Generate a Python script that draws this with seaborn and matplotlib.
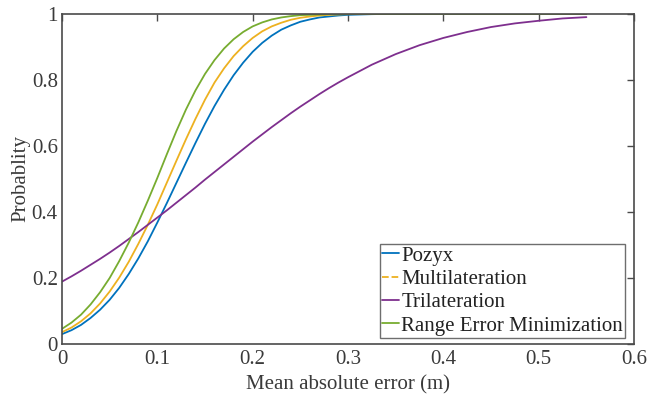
import numpy as np
import pandas as pd
import matplotlib
matplotlib.use("Agg")
import matplotlib.pyplot as plt
from matplotlib.lines import Line2D
import seaborn as sns

x_err = [0.00, 0.01, 0.02, 0.03, 0.04, 0.05, 0.06, 0.07, 0.08, 0.09,
         0.10, 0.11, 0.12, 0.13, 0.14, 0.15, 0.16, 0.17, 0.18, 0.19,
         0.20, 0.21, 0.22, 0.23, 0.24, 0.25, 0.26, 0.27, 0.28, 0.29,
         0.30, 0.325, 0.35, 0.375, 0.40, 0.425, 0.45, 0.475, 0.50, 0.525, 0.55]

pozyx = [0.030, 0.042, 0.058, 0.079, 0.104, 0.134, 0.170, 0.212, 0.259, 0.311,
         0.368, 0.427, 0.488, 0.549, 0.609, 0.667, 0.721, 0.770, 0.814, 0.852,
         0.885, 0.912, 0.934, 0.952, 0.965, 0.976, 0.983, 0.989, 0.992, 0.995,
         0.997, 0.999, 1.000, 1.000, 1.000, 1.000, 1.000, 1.000, 1.000, 1.000, 1.000]

multilateration = [0.036, 0.050, 0.069, 0.093, 0.123, 0.159, 0.201, 0.249, 0.303, 0.361,
                   0.423, 0.489, 0.555, 0.620, 0.682, 0.740, 0.792, 0.835, 0.872, 0.902,
                   0.927, 0.947, 0.962, 0.973, 0.982, 0.988, 0.992, 0.995, 0.997, 0.998,
                   0.999, 1.000, 1.000, 1.000, 1.000, 1.000, 1.000, 1.000, 1.000, 1.000, 1.000]

trilateration = [0.189, 0.205, 0.222, 0.240, 0.258, 0.277, 0.297, 0.318, 0.339, 0.361,
                 0.383, 0.405, 0.428, 0.451, 0.474, 0.498, 0.521, 0.544, 0.567, 0.590,
                 0.613, 0.635, 0.657, 0.678, 0.699, 0.719, 0.738, 0.757, 0.775, 0.792,
                 0.808, 0.846, 0.878, 0.905, 0.927, 0.945, 0.960, 0.971, 0.979, 0.986, 0.990]

range_err_min = [0.046, 0.065, 0.089, 0.120, 0.157, 0.200, 0.251, 0.307, 0.368, 0.434,
                 0.503, 0.575, 0.645, 0.710, 0.768, 0.818, 0.860, 0.895, 0.923, 0.945,
                 0.962, 0.974, 0.983, 0.989, 0.993, 0.996, 0.997, 0.998, 0.999, 0.999,
                 1.000, 1.000, 1.000, 1.000, 1.000, 1.000, 1.000, 1.000, 1.000, 1.000, 1.000]

series_names = ["Pozyx", "Multilateration", "Trilateration", "Range Error Minimization"]
series_values = [pozyx, multilateration, trilateration, range_err_min]
colors = ["#0072BD", "#EDB120", "#7E2F8E", "#77AC30"]
legend_styles = ["-", "--", "-", "-"]

x_ticks = [0, 0.1, 0.2, 0.3, 0.4, 0.5, 0.6]
x_tick_labels = ["0", "0.1", "0.2", "0.3", "0.4", "0.5", "0.6"]
y_ticks = [0, 0.2, 0.4, 0.6, 0.8, 1]
y_tick_labels = ["0", "0.2", "0.4", "0.6", "0.8", "1"]

sns.set_style("white")
plt.rcParams["font.family"] = ["Liberation Serif", "DejaVu Serif"]

axcol = "#4a4a4a"
txtcol = "#3a3a3a"
fs = 15
fig = plt.figure(figsize=(6.49, 3.95), dpi=100)
ax = fig.add_axes([0.0955, 0.129, 0.8815, 0.836])

frames = []
for name, vals in zip(series_names, series_values):
    frames.append(pd.DataFrame({"x": x_err, "y": vals, "method": name}))
df = pd.concat(frames, ignore_index=True)

sns.lineplot(data=df, x="x", y="y", hue="method", hue_order=series_names,
             palette=colors, linewidth=1.3, ax=ax, legend=False, sort=True)

ax.set_xlim(0, 0.6)
ax.set_ylim(0, 1)
ax.set_xticks(x_ticks)
ax.set_xticklabels(x_tick_labels)
ax.set_yticks(y_ticks)
ax.set_yticklabels(y_tick_labels)
ax.tick_params(direction="in", length=5, width=1, colors=axcol, labelsize=fs,
               top=True, right=True, labelcolor=txtcol, pad=3)
ax.tick_params(axis="x", pad=4.5)
for sp in ax.spines.values():
    sp.set_visible(True)
    sp.set_color(axcol)
    sp.set_linewidth(1.2)

ax.set_xlabel("Mean absolute error (m)", fontsize=fs, color=txtcol, labelpad=4)
ax.set_ylabel("Probablity", fontsize=fs, color=txtcol, labelpad=1)

handles = [Line2D([0], [0], color=c, ls=s, lw=1.3) for c, s in zip(colors, legend_styles)]
leg = ax.legend(handles, series_names, loc="lower right", bbox_to_anchor=(0.985, 0.018),
                fontsize=fs, frameon=True, fancybox=False, handlelength=0.8,
                handletextpad=0.1, borderpad=0.12, labelspacing=0.18, borderaxespad=0)
leg.get_frame().set_edgecolor(axcol)
leg.get_frame().set_linewidth(1.0)
for t in leg.get_texts():
    t.set_color("#222222")

fig.savefig("out.png", dpi=100)
